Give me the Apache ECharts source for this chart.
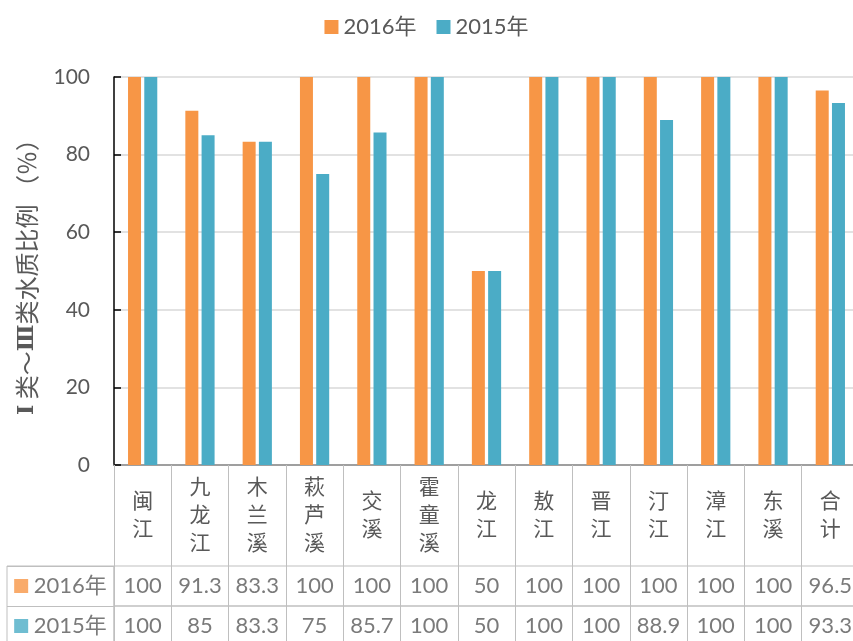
<!DOCTYPE html>
<html>
<head>
<meta charset="utf-8">
<script src="https://cdn.jsdelivr.net/npm/echarts@6/dist/echarts.min.js"></script>
<style>
  html, body { margin: 0; padding: 0; background: #fff; }
  #chart { width: 853px; height: 641px; }
</style>
</head>
<body>
<div id="chart"></div>
<script>
// 各流域 I~III 类水质比例
var rivers = ['闽江', '九龙江', '木兰溪', '萩芦溪', '交溪', '霍童溪', '龙江', '敖江', '晋江', '汀江', '漳江', '东溪', '合计'];
var years = ['2016年', '2015年'];
var data2016 = [100, 91.3, 83.3, 100, 100, 100, 50, 100, 100, 100, 100, 100, 96.5];
var data2015 = [100, 85, 83.3, 75, 85.7, 100, 50, 100, 100, 88.9, 100, 100, 93.3];
var yTicks = [0, 20, 40, 60, 80, 100];

var colors = ['#F79646', '#4BACC6'];
var textColor = '#595959';
var fontFamily = 'Lato, "Noto Sans CJK SC", sans-serif';
var lineColor = '#BFBFBF';

var chart = echarts.init(document.getElementById('chart'));

// 表格里的数值
function cellData(values) {
  var list = [];
  for (var i = 0; i < values.length; ++i) {
    list.push([i, 0, values[i]]);
  }
  return list;
}

function hiddenCategory(gridIndex, data, split) {
  return {
    gridIndex: gridIndex, type: 'category', data: data,
    axisLine: { show: false }, axisTick: { show: false }, axisLabel: { show: false },
    splitLine: { show: split, interval: 0, lineStyle: { color: lineColor } }
  };
}

var option = {
  animation: false,
  textStyle: { fontFamily: fontFamily },
  color: colors,
  legend: {
    data: years,
    top: 11,
    left: 'center',
    itemWidth: 14,
    itemHeight: 14,
    itemGap: 20,
    icon: 'rect',
    textStyle: { color: textColor, fontSize: 22, fontFamily: fontFamily }
  },
  grid: [
    { left: 114, top: 77, width: 745, height: 388, outerBoundsMode: 'none' },
    { left: 114, top: 566, width: 745, height: 40, show: true, borderColor: lineColor, borderWidth: 1, outerBoundsMode: 'none' },
    { left: 114, top: 606, width: 745, height: 40, show: true, borderColor: lineColor, borderWidth: 1, outerBoundsMode: 'none' },
    { left: 7, top: 566, width: 107, height: 80, show: true, borderColor: lineColor, borderWidth: 1, outerBoundsMode: 'none' }
  ],
  xAxis: [
    {
      gridIndex: 0,
      type: 'category',
      data: rivers,
      axisLine: { lineStyle: { color: '#898989', width: 1.5 } },
      axisTick: { show: true, length: 101, lineStyle: { color: lineColor } },
      axisLabel: {
        interval: 0,
        margin: 50,
        verticalAlign: 'middle',
        color: textColor,
        fontSize: 21,
        lineHeight: 28,
        fontFamily: fontFamily,
        formatter: function (v) { return v.split('').join('\n'); }
      }
    },
    hiddenCategory(1, rivers, true),
    hiddenCategory(2, rivers, true),
    hiddenCategory(3, [''], false)
  ],
  yAxis: [
    {
      gridIndex: 0,
      type: 'value',
      min: 0,
      max: 100,
      interval: 20,
      name: '{r|Ⅰ} 类～{r|Ⅲ}类水质比例 （％）',
      nameLocation: 'middle',
      nameRotate: 90,
      nameGap: 75,
      nameTextStyle: {
        color: textColor, fontSize: 24, fontFamily: '"Noto Sans CJK SC", sans-serif',
        rich: {
          r: { color: textColor, fontSize: 22, fontWeight: 'bold', fontFamily: '"DejaVu Serif", serif' }
        }
      },
      axisLine: { show: true, lineStyle: { color: '#000', width: 1.5 } },
      axisTick: { show: true, inside: true, length: 7, lineStyle: { color: '#000', width: 1.5 } },
      axisLabel: {
        margin: 24,
        color: textColor,
        fontSize: 21,
        fontFamily: fontFamily,
        customValues: yTicks
      },
      splitLine: { lineStyle: { color: '#D9D9D9', width: 1.5 } }
    },
    hiddenCategory(1, [''], false),
    hiddenCategory(2, [''], false),
    Object.assign(hiddenCategory(3, years, true), { inverse: true })
  ],
  series: [
    {
      name: years[0],
      type: 'bar',
      xAxisIndex: 0, yAxisIndex: 0,
      barWidth: 13,
      barGap: '25%',
      itemStyle: { color: colors[0] },
      data: data2016
    },
    {
      name: years[1],
      type: 'bar',
      xAxisIndex: 0, yAxisIndex: 0,
      barWidth: 13,
      itemStyle: { color: colors[1] },
      data: data2015
    },
    {
      type: 'scatter',
      xAxisIndex: 1, yAxisIndex: 1,
      symbolSize: 0,
      silent: true,
      label: {
        show: true, position: 'inside',
        color: textColor, fontSize: 22, fontFamily: fontFamily,
        formatter: function (p) { return p.value[2]; }
      },
      data: cellData(data2016)
    },
    {
      type: 'scatter',
      xAxisIndex: 2, yAxisIndex: 2,
      symbolSize: 0,
      silent: true,
      label: {
        show: true, position: 'inside',
        color: textColor, fontSize: 22, fontFamily: fontFamily,
        formatter: function (p) { return p.value[2]; }
      },
      data: cellData(data2015)
    },
    {
      type: 'scatter',
      xAxisIndex: 3, yAxisIndex: 3,
      symbolSize: 0,
      silent: true,
      label: {
        show: true, position: 'inside',
        color: textColor, fontSize: 22, fontFamily: fontFamily,
        formatter: function (p) {
          return (p.dataIndex === 0 ? '{a|}' : '{b|}') + ' ' + p.value[1];
        },
        rich: {
          a: { width: 14, height: 14, backgroundColor: colors[0] },
          b: { width: 14, height: 14, backgroundColor: colors[1] }
        }
      },
      data: [[0, years[0]], [0, years[1]]]
    }
  ]
};

chart.setOption(option);
</script>
</body>
</html>
